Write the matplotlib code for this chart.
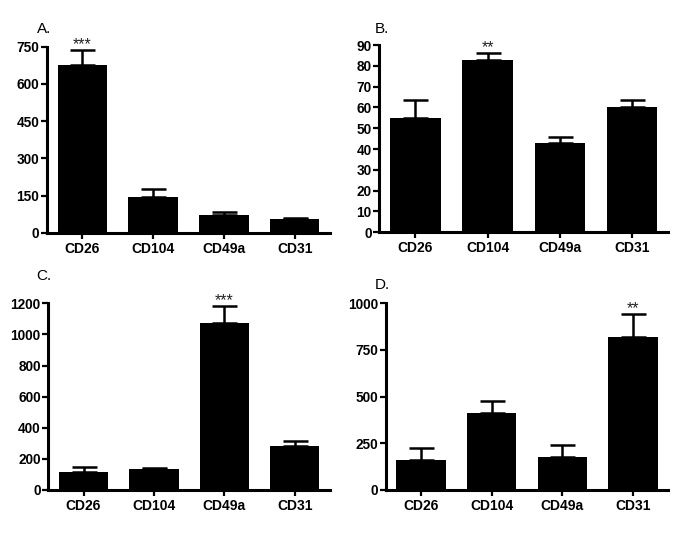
import matplotlib
matplotlib.use("Agg")
import matplotlib.pyplot as plt
import numpy as np

plt.rcParams['font.family'] = ['Liberation Sans', 'DejaVu Sans']

categories = ["CD26", "CD104", "CD49a", "CD31"]

a_values = [678, 146, 72, 57]
a_errors = [60, 32, 12, 4]
a_ticks = [0, 150, 300, 450, 600, 750]
a_stars = ["***", "", "", ""]

b_values = [55, 83, 43, 60]
b_errors = [8.7, 3.2, 3.0, 3.5]
b_ticks = [0, 10, 20, 30, 40, 50, 60, 70, 80, 90]
b_stars = ["", "**", "", ""]

c_values = [113, 133, 1076, 285]
c_errors = [37, 10, 106, 33]
c_ticks = [0, 200, 400, 600, 800, 1000, 1200]
c_stars = ["", "", "***", ""]

d_values = [160, 410, 175, 822]
d_errors = [67, 68, 64, 121]
d_ticks = [0, 250, 500, 750, 1000]
d_stars = ["", "", "", "**"]

panels = [
    ("A.", a_values, a_errors, a_ticks, a_stars, [0.0686, 0.5637, 0.4132, 0.3488], (0.0536, 0.9388)),
    ("B.", b_values, b_errors, b_ticks, b_stars, [0.5537, 0.5650, 0.4219, 0.3507], (0.5474, 0.9388)),
    ("C.", c_values, c_errors, c_ticks, c_stars, [0.0705, 0.0824, 0.4113, 0.3496], (0.0536, 0.4757)),
    ("D.", d_values, d_errors, d_ticks, d_stars, [0.5630, 0.0824, 0.4126, 0.3496], (0.5465, 0.4582)),
]

fig = plt.figure(figsize=(6.85, 5.34), dpi=100)

for label, vals, errs, ticks, stars, rect, lpos in panels:
    ax = fig.add_axes(rect)
    x = np.arange(len(categories))
    ax.bar(x, vals, width=0.7, color='black', zorder=2)
    ax.errorbar(x, vals, yerr=[np.zeros(len(vals)), errs], fmt='none',
                ecolor='black', elinewidth=1.8, capsize=9, capthick=1.8, zorder=3)
    ymax = ticks[-1]
    for xi, v, e, s in zip(x, vals, errs, stars):
        if s:
            ax.text(xi, v + e - ymax * 0.012, s, ha='center', va='bottom',
                    fontsize=11.5, fontweight='normal', color='#222222')
    ax.set_xlim(-0.5, 3.5)
    ax.set_ylim(0, ymax)
    ax.set_yticks(ticks)
    ax.set_yticklabels([str(t) for t in ticks], fontweight='bold', fontsize=9.8)
    ax.set_xticks(x)
    ax.set_xticklabels(categories, fontweight='bold', fontsize=10)
    for sp in ['top', 'right']:
        ax.spines[sp].set_visible(False)
    for sp in ['left', 'bottom']:
        ax.spines[sp].set_linewidth(2.2)
    ax.tick_params(axis='y', direction='out', length=4.5, width=1.6, pad=1)
    ax.tick_params(axis='x', direction='out', length=4.5, width=1.6, pad=2)
    fig.text(lpos[0], lpos[1], label, ha='left', va='baseline', fontsize=11)

fig.savefig("out.png", dpi=100)
